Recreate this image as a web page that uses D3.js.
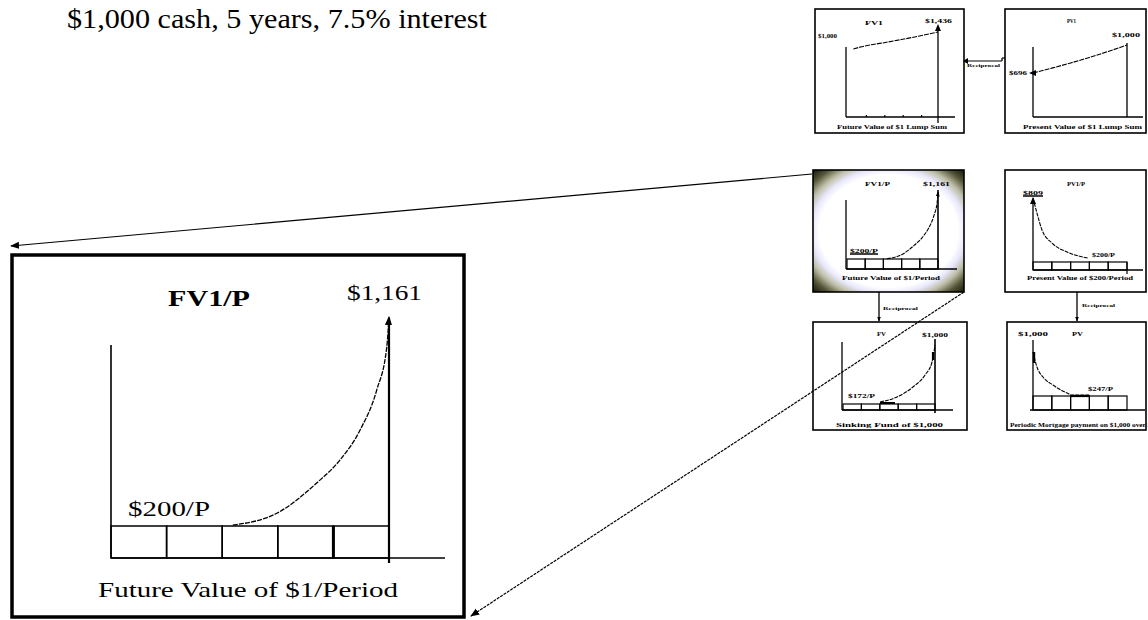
<!DOCTYPE html>
<html><head><meta charset="utf-8">
<script src="https://cdn.jsdelivr.net/npm/d3@7"></script>
<style>
body{margin:0;background:#fff}
svg{display:block}
text{font-family:"Liberation Serif","DejaVu Serif",serif;fill:#000}
</style>
</head><body>
<svg id="c" width="1148" height="620"></svg>
<script>
// ---------------- data ----------------
const headline = "$1,000 cash, 5 years, 7.5% interest";
const periods = [0, 1, 2, 3, 4, 5];
const fvLumpValues = [1000, 1075, 1156, 1242, 1335, 1436];
const pvLumpValues = [696, 749, 805, 865, 930, 1000];
const fvAnnuityPeriods = [2.19, 2.99, 3.70, 4.12, 4.48, 4.78, 4.96, 5.0];
const fvAnnuityValues = [5, 72, 239, 367, 533, 756, 994, 1161];
const pvAnnuityPeriods = [0, 0.21, 0.48, 1.01, 1.81, 2.93];
const pvAnnuityValues = [809, 619, 404, 240, 126, 50];
const sinkingPeriods = [2.01, 2.93, 3.80, 4.46, 4.84, 5.0];
const sinkingValues = [34, 119, 288, 492, 712, 1000];
const mortgagePeriods = [0, 0.21, 0.53, 1.06, 1.81, 2.07, 3.0];
const mortgageValues = [786, 518, 339, 196, 54, 18, 18];
const panelTitles = ["FV1", "PV1", "FV1/P", "PV1/P", "FV", "PV"];
const panelCaptions = ["Future Value of $1 Lump Sum", "Present Value of $1 Lump Sum",
  "Future Value of $1/Period", "Present Value of $200/Period",
  "Sinking Fund of $1,000", "Periodic Mortgage payment on $1,000 over 5 years"];
const connectorLabel = "Reciprocal";
const bigTitle = "FV1/P", bigTop = "$1,161", bigPay = "$200/P", bigCaption = "Future Value of $1/Period";

// ---------------- helpers ----------------
const svg = d3.select("#c");
const defs = svg.append("defs");
function marker(id, size){
  defs.append("marker").attr("id", id).attr("viewBox", "0 0 10 10")
    .attr("refX", 9).attr("refY", 5).attr("markerWidth", size).attr("markerHeight", size)
    .attr("markerUnits", "userSpaceOnUse").attr("orient", "auto")
    .append("path").attr("d", "M0,1L10,5L0,9z").attr("fill", "#000");
}
marker("ahBig", 9); marker("ahSm", 5);
const rg = defs.append("radialGradient").attr("id", "vig").attr("cx", "50%").attr("cy", "50%").attr("r", "72%");
[[0, "#ffffff"], [0.64, "#ffffff"], [0.71, "#e8e8fc"], [0.79, "#bcbca4"], [0.88, "#56563a"], [1, "#0a0a00"]]
  .forEach(([o, c]) => rg.append("stop").attr("offset", o).attr("stop-color", c));

function txt(x, y, s, size, w, bold){
  const t = svg.append("text").attr("x", x).attr("y", y).attr("font-size", size)
    .attr("font-family", "'Liberation Serif', 'DejaVu Serif', serif").text(s);
  if (bold) t.attr("font-weight", "bold");
  if (w) t.attr("textLength", w).attr("lengthAdjust", "spacingAndGlyphs");
  return t;
}
function ln(x1, y1, x2, y2, sw){
  return svg.append("line").attr("x1", x1).attr("y1", y1).attr("x2", x2).attr("y2", y2)
    .attr("stroke", "#000").attr("stroke-width", sw || 1.2);
}
function box(x, y, w, h, sw, fill){
  return svg.append("rect").attr("x", x).attr("y", y).attr("width", w).attr("height", h)
    .attr("fill", fill || "none").attr("stroke", "#000").attr("stroke-width", sw);
}
function curve(xs, ys, px, vals, sw, dash, mk){
  const line = d3.line().x(d => xs(d[0])).y(d => ys(d[1])).curve(d3.curveMonotoneX);
  const p = svg.append("path").attr("d", line(px.map((p, i) => [p, vals[i]])))
    .attr("fill", "none").attr("stroke", "#000").attr("stroke-width", sw);
  if (dash) p.attr("stroke-dasharray", dash);
  if (mk) p.attr("marker-end", "url(#" + mk + ")");
  return p;
}
function periodBoxes(xs, yTop, yBot, sw){
  periods.slice(1).forEach(i => {
    box(xs(i - 1), yTop, xs(i) - xs(i - 1), yBot - yTop, sw);
  });
}

// ---------------- headline ----------------
txt(67, 28, headline, 28, 420);

// ---------------- big panel ----------------
box(12, 255, 452, 362, 3.5);
{
  const xs = d3.scaleLinear().domain([0, 5]).range([111, 389]);
  const ys = d3.scaleLinear().domain([0, 1161]).range([526, 317]);
  ln(111, 345, 111, 558, 1.6);
  periodBoxes(xs, 526, 558, 1.5);
  ln(xs(4), 526, xs(4), 558, 3);
  ln(111, 558, 445, 558, 1.6);
  ln(xs(5), 318, xs(5), 563, 2.2);
  curve(xs, ys, fvAnnuityPeriods, fvAnnuityValues, 1.3, "5,1.2", "ahBig");
  txt(168, 306, bigTitle, 24, 82, true);
  txt(347, 300, bigTop, 20, 75);
  txt(128, 516, bigPay, 20, 82);
  txt(98, 597, bigCaption, 21, 300);
}

// ---------------- panel A : FV1 ----------------
box(815, 9, 149, 124, 1.6);
{
  const xs = d3.scaleLinear().domain([0, 5]).range([846, 938]);
  const ys = d3.scaleLinear().domain([1000, 1436]).range([49, 32]);
  ln(846, 47, 846, 117, 1.3);
  ln(846, 117, 955, 117, 1.3);
  periods.slice(1, 5).forEach(i => ln(xs(i) + 2, 115, xs(i) + 2, 117, 1.2));
  ln(938, 27, 938, 123, 1.3);
  svg.append("path").attr("d", "M935,31L938,24L941,31z").attr("fill", "#000");
  curve(xs, ys, periods.map(p => p === 0 ? 0.4 : p), fvLumpValues, 1.1, "5,1");
  txt(865, 25, panelTitles[0], 6.5, 18, true);
  txt(818, 38, "$1,000", 6, 19, true);
  txt(925, 23, "$1,436", 6, 27, true);
  txt(837, 129, panelCaptions[0], 5.5, 110, true);
}

// connector A-B
ln(965, 61, 1002, 61, 1.2);
svg.append("path").attr("d", "M963,61L968,58L968,64z").attr("fill", "#000");
ln(1002, 58, 1002, 61, 1.2);
ln(1002, 58, 1005, 58, 1.2);
txt(967, 67, connectorLabel, 5, 33, true);

// ---------------- panel B : PV1 ----------------
box(1005, 9, 141, 124, 1.6);
{
  const xs = d3.scaleLinear().domain([0, 5]).range([1033, 1127]);
  const ys = d3.scaleLinear().domain([696, 1000]).range([73, 45]);
  ln(1033, 47, 1033, 117, 1.3);
  ln(1033, 117, 1143, 117, 1.3);
  ln(1127, 43, 1127, 117, 1.3);
  curve(xs, ys, periods, pvLumpValues, 1.1, "5,1");
  svg.append("path").attr("d", "M1029,73L1036,70L1036,76z").attr("fill", "#000");
  txt(1067, 23, panelTitles[1], 6.5, 9, true);
  txt(1009, 75, "$696", 6, 18, true);
  txt(1112, 37, "$1,000", 6, 28, true);
  txt(1023, 129, panelCaptions[1], 5.5, 119, true);
}

// ---------------- panel C : FV1/P (vignette) ----------------
box(813, 170, 151, 122, 1.6, "url(#vig)");
{
  const xs = d3.scaleLinear().domain([0, 5]).range([847, 938]);
  const ys = d3.scaleLinear().domain([0, 1161]).range([259, 192]);
  ln(846, 200, 846, 269, 1.3);
  periodBoxes(xs, 259, 269, 1.2);
  ln(846, 269, 957, 269, 1.3);
  ln(938, 190, 938, 269, 1.6);
  curve(xs, ys, fvAnnuityPeriods, fvAnnuityValues, 1.1, "4,1", "ahSm");
  txt(865, 186, panelTitles[2], 6.5, 25, true);
  txt(923, 186, "$1,161", 6, 27, true);
  txt(850, 253, "$200/P", 6, 28, true);
  ln(850, 254, 878, 254, 1.5);
  txt(842, 280, panelCaptions[2], 5.5, 98, true);
}

// ---------------- panel D : PV1/P ----------------
box(1005, 170, 141, 122, 1.6);
{
  const xs = d3.scaleLinear().domain([0, 5]).range([1033, 1127]);
  const ys = d3.scaleLinear().domain([0, 809]).range([262, 198]);
  ln(1033, 200, 1033, 270, 1.3);
  periodBoxes(xs, 262, 270, 1.2);
  ln(1127, 262, 1127, 274, 1.2);
  ln(1033, 270, 1143, 270, 1.3);
  curve(xs, ys, pvAnnuityPeriods, pvAnnuityValues, 1.1, "4,1");
  svg.append("path").attr("d", "M1030,204L1033,197L1036,204z").attr("fill", "#000");
  txt(1067, 186, panelTitles[3], 6.5, 18, true);
  txt(1023, 195, "$809", 6, 20, true);
  ln(1023, 196, 1043, 196, 1.5);
  txt(1092, 257, "$200/P", 6, 23, true);
  txt(1027, 280, panelCaptions[3], 5.5, 106, true);
}

// connectors C-E, D-F
ln(879, 292, 879, 321, 1.3).attr("marker-end", "url(#ahSm)");
txt(883, 310, connectorLabel, 5, 35, true);
ln(1077, 292, 1077, 321, 1.3).attr("marker-end", "url(#ahSm)");
txt(1082, 307, connectorLabel, 5, 33, true);

// ---------------- panel E : FV (sinking fund) ----------------
box(813, 322, 154, 108, 1.6);
{
  const xs = d3.scaleLinear().domain([0, 5]).range([843, 935]);
  const ys = d3.scaleLinear().domain([0, 1000]).range([404, 345]);
  ln(842, 342, 842, 410, 1.3);
  periodBoxes(xs, 404, 410, 1.2);
  ln(842, 410, 953, 410, 1.3);
  ln(935, 339, 935, 413, 1.6);
  curve(xs, ys, sinkingPeriods, sinkingValues, 1.1, "4,1");
  ln(933, 352, 933, 360, 2.2);
  ln(880, 403, 895, 403, 2);
  txt(877, 336, panelTitles[4], 6.5, 9, true);
  txt(922, 337, "$1,000", 6, 26, true);
  txt(848, 398, "$172/P", 6, 27, true);
  txt(836, 427, panelCaptions[4], 5.5, 107, true);
}

// ---------------- panel F : PV (mortgage) ----------------
box(1007, 322, 139, 108, 1.6);
{
  const xs = d3.scaleLinear().domain([0, 5]).range([1033, 1127]);
  const ys = d3.scaleLinear().domain([0, 1000]).range([396, 340]);
  ln(1033, 340, 1033, 410, 1.3);
  periodBoxes(xs, 396, 410, 1.2);
  ln(1030, 410, 1145, 410, 1.3);
  curve(xs, ys, mortgagePeriods, mortgageValues, 1.1, "4,1");
  ln(1034, 352, 1034, 363, 2.4);
  ln(xs(2), 396, xs(3), 396, 2.2);
  txt(1018, 336, "$1,000", 6, 30, true);
  txt(1072, 336, panelTitles[5], 6.5, 11, true);
  txt(1088, 391, "$247/P", 6, 25, true);
  txt(1010, 427, panelCaptions[5], 5.5, 160, true);
}

// ---------------- zoom lines ----------------
ln(812, 174, 11, 246, 1.2).attr("marker-end", "url(#ahBig)");
ln(964, 292, 471, 616, 1.2).attr("stroke-dasharray", "3,1").attr("marker-end", "url(#ahBig)");
</script>
</body></html>
